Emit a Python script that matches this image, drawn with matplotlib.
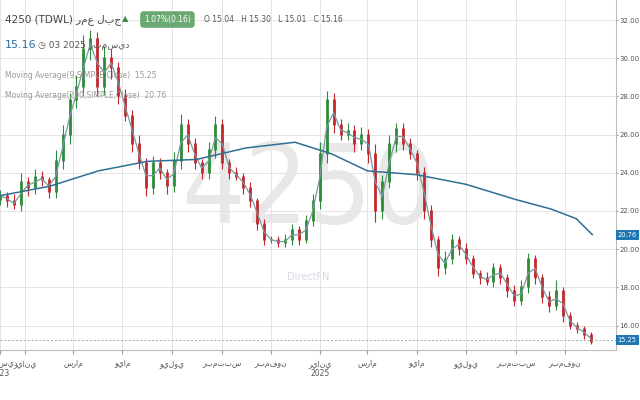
import matplotlib
matplotlib.use("Agg")
import matplotlib.pyplot as plt
import pandas as pd
import numpy as np

# weekly-ish closes
closes = [22.8, 22.5, 22.3, 23.5, 23.2, 23.8, 23.6, 23.0, 24.6, 26.0, 27.8, 28.5, 30.5, 31.0,
          28.5, 30.0, 29.5, 28.0, 27.0, 25.5, 24.5, 23.2, 24.5, 24.0, 23.3, 24.6, 26.5, 25.5,
          24.5, 24.0, 25.2, 26.5, 24.5, 24.0, 23.8, 23.2, 22.5, 21.3, 20.5, 20.5, 20.3, 20.5,
          21.0, 20.5, 21.5, 22.5, 25.0, 27.8, 26.5, 26.0, 26.2, 25.5, 26.0, 25.0, 22.0, 23.5,
          25.5, 26.3, 25.5, 25.0, 24.0, 22.0, 20.5, 19.0, 19.5, 20.5, 20.0, 19.5, 18.7, 18.5,
          18.3, 19.0, 18.5, 17.8, 17.3, 18.0, 19.5, 18.5, 17.5, 17.0, 17.8, 16.5, 16.0, 15.8,
          15.5, 15.16]
highs_extra = [0.3, 0.2, 0.4, 0.5, 0.3, 0.4, 0.3, 0.2, 0.6, 0.5, 0.4, 0.6, 0.7, 0.5,
               0.4, 0.6, 0.5, 0.3, 0.4, 0.3, 0.5, 0.3, 0.4, 0.3, 0.2, 0.5, 0.6, 0.3,
               0.3, 0.2, 0.4, 0.5, 0.3, 0.2, 0.3, 0.2, 0.3, 0.2, 0.3, 0.2, 0.2, 0.3,
               0.3, 0.2, 0.3, 0.4, 0.6, 0.5, 0.4, 0.3, 0.4, 0.3, 0.4, 0.3, 0.5, 0.4,
               0.5, 0.3, 0.3, 0.3, 0.2, 0.3, 0.3, 0.2, 0.4, 0.3, 0.2, 0.3, 0.2, 0.2,
               0.3, 0.3, 0.2, 0.2, 0.3, 0.4, 0.3, 0.2, 0.2, 0.3, 0.6, 0.2, 0.2, 0.2,
               0.2, 0.15]
lows_extra = [0.3, 0.3, 0.2, 0.3, 0.4, 0.3, 0.3, 0.3, 0.3, 0.4, 0.5, 0.4, 0.5, 0.6,
              0.5, 0.4, 0.6, 0.4, 0.3, 0.4, 0.3, 0.4, 0.3, 0.3, 0.4, 0.3, 0.4, 0.4,
              0.3, 0.3, 0.3, 0.4, 0.3, 0.3, 0.2, 0.3, 0.3, 0.3, 0.3, 0.2, 0.2, 0.2,
              0.3, 0.3, 0.2, 0.3, 0.4, 0.5, 0.4, 0.3, 0.3, 0.4, 0.3, 0.5, 0.6, 0.4,
              0.3, 0.4, 0.3, 0.3, 0.4, 0.4, 0.4, 0.4, 0.3, 0.3, 0.3, 0.3, 0.2, 0.3,
              0.2, 0.3, 0.3, 0.3, 0.3, 0.2, 0.3, 0.3, 0.3, 0.3, 0.2, 0.3, 0.2, 0.2,
              0.2, 0.15]
dates = pd.date_range("2023-12-01", periods=len(closes), freq="207h")

ma200_dates = pd.to_datetime(["2023-12-01", "2024-02-01", "2024-04-01", "2024-06-01", "2024-08-01",
                              "2024-10-01", "2024-12-01", "2025-01-15", "2025-03-01", "2025-05-01",
                              "2025-07-01", "2025-09-01", "2025-10-15", "2025-11-15", "2025-12-05"])
ma200_vals = [22.8, 23.3, 24.1, 24.6, 24.7, 25.3, 25.6, 25.0, 24.1, 23.9, 23.4, 22.6, 22.1, 21.6, 20.76]

tick_dates = pd.to_datetime(["2023-12-01", "2024-01-01", "2024-03-01", "2024-05-01", "2024-07-01",
                             "2024-09-01", "2024-11-01", "2025-01-01", "2025-03-01", "2025-05-01",
                             "2025-07-01", "2025-09-01", "2025-11-01"])
tick_labels = ["ديسمبر\n2023", "يناير", "مارس", "مايو", "يوليو", "سبتمبر", "نوفمبر",
               "يناير\n2025", "مارس", "مايو", "يوليو", "سبتمبر", "نوفمبر"]


def rtl(s):
    return "\n".join(line[::-1] if not line.isdigit() else line for line in s.split("\n"))


up, down = "#2e8b3a", "#c0282d"
opens = [closes[0] - 0.2] + closes[:-1]

fig = plt.figure(figsize=(6.4, 4), dpi=100)
ax = fig.add_axes([0.0, 0.125, 0.962, 0.875])

for d, o, c, he, le in zip(dates, opens, closes, highs_extra, lows_extra):
    col = up if c >= o else down
    hi, lo = max(o, c) + he, min(o, c) - le
    ax.vlines(d, lo, hi, color=col, lw=0.8)
    ax.vlines(d, min(o, c), max(o, c) + 0.05, color=col, lw=2.0)

ma9 = pd.Series(closes).rolling(2, min_periods=1).mean()
ax.plot(dates, ma9, color="#7a9aa0", lw=0.9)
ax.plot(ma200_dates, ma200_vals, color="#2f6f96", lw=1.1)

ax.set_ylim(14.72, 33.05)
ax.set_xlim(pd.Timestamp("2023-12-01"), pd.Timestamp("2023-12-01") + pd.Timedelta(days=int(616 / 0.806)))
ax.yaxis.tick_right()
ax.set_yticks(np.arange(16, 33, 2))
ax.set_yticklabels([f"{v:.2f}" for v in np.arange(16, 33, 2)], fontsize=5, color="#555")
ax.set_xticks(tick_dates)
ax.set_xticklabels([rtl(t) for t in tick_labels], fontsize=5.5, color="#555")
ax.tick_params(axis="y", length=1.5, pad=1, color="#999")
ax.tick_params(axis="x", length=3, color="#999")
ax.grid(True, color="#e4e4e4", lw=0.7)
for s in ["top", "left"]:
    ax.spines[s].set_visible(False)
for s in ["right", "bottom"]:
    ax.spines[s].set_color("#bbb")

ax.axhline(15.25, color="#9aa", lw=0.7, ls=(0, (2, 2)))
for v in [15.25, 20.76]:
    ax.text(1.003, v, f"{v:.2f}", transform=ax.get_yaxis_transform(), fontsize=4.8, color="white",
            va="center", ha="left", bbox=dict(boxstyle="square,pad=0.3", fc="#1f78b4", ec="none"))

ax.text(0.5, 0.45, "4250", transform=ax.transAxes, fontsize=80, color="#e8e8e8",
        ha="center", va="center", zorder=0, stretch="condensed")
ax.text(0.5, 0.21, "DirectFN", transform=ax.transAxes, fontsize=7, color="#d8d8e8",
        ha="center", va="center", zorder=0)

fig.text(0.008, 0.945, "4250 (TDWL) " + rtl("جبل عمر"), fontsize=7.5, color="#444")
fig.text(0.19, 0.947, "▲", fontsize=6, color="#3a8a4a")
fig.text(0.225, 0.945, "1.07%(0.16)", fontsize=5.5, color="white",
         bbox=dict(boxstyle="round,pad=0.5", fc="#6aaa72", ec="none"))
fig.text(0.318, 0.945, "O 15.04   H 15.30   L 15.01   C 15.16", fontsize=5.5, color="#555")
fig.text(0.008, 0.88, "15.16", fontsize=8, color="#2a6fa8")
fig.text(0.06, 0.88, "◷ 03 2025 " + rtl("ديسمبر"), fontsize=6.5, color="#555")
fig.text(0.008, 0.805, "Moving Average(9,SIMPLE,Close)  15.25", fontsize=5.5, color="#999")
fig.text(0.008, 0.755, "Moving Average(200,SIMPLE,Close)  20.76", fontsize=5.5, color="#999")

fig.savefig("out.png", dpi=100)
